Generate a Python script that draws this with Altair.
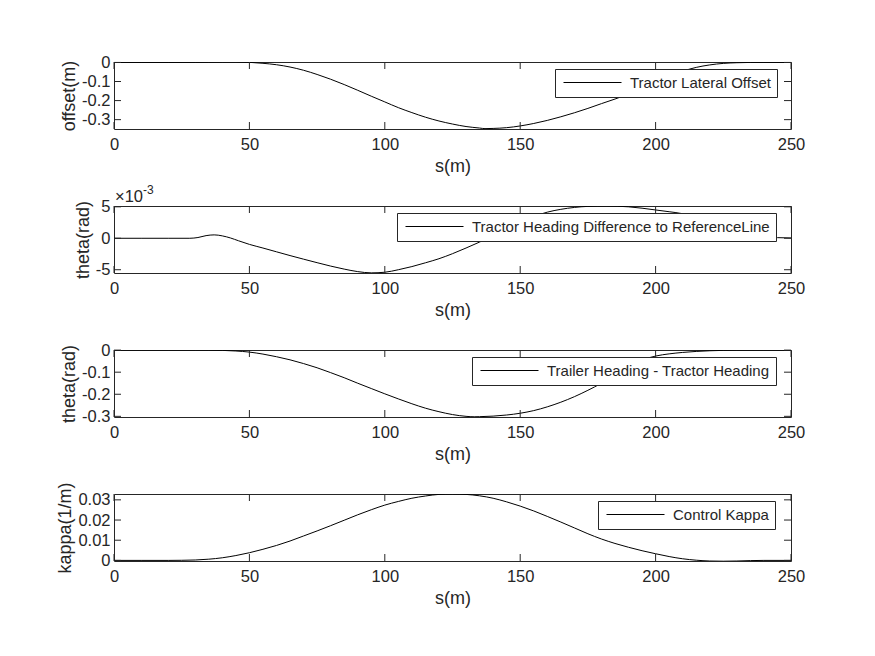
import altair as alt
import pandas as pd

# ---------------- data ----------------
S_OFFSET = [0, 10, 20, 30, 35, 40, 45, 50, 55, 60, 65, 70, 75, 80, 85, 90, 95, 100, 105, 110,
            115, 120, 125, 130, 135, 137, 140, 145, 150, 155, 160, 165, 170, 175, 180, 185, 190,
            195, 200, 205, 210, 215, 220, 225, 230, 235, 240, 250]
OFFSET = [0, 0, 0, 0.0004, 0.0011, 0.0019, 0.0021, 0.0005, -0.0045, -0.012,
          -0.024, -0.041, -0.063, -0.088, -0.116, -0.146, -0.177, -0.207, -0.237, -0.263,
          -0.287, -0.307, -0.323, -0.336, -0.344, -0.347, -0.346, -0.342, -0.333, -0.320,
          -0.304, -0.285, -0.264, -0.241, -0.216, -0.192, -0.166, -0.137, -0.105, -0.073,
          -0.046, -0.026, -0.013, -0.005, -0.0015, 0, 0, 0]

S_THETA = [0, 10, 20, 28, 31, 34, 37, 40, 43, 46, 50, 55, 60, 65, 70, 75, 80, 85, 90, 95,
           100, 105, 110, 115, 120, 125, 130, 135, 140, 145, 150, 155, 160, 165, 170, 175, 182,
           190, 195, 200, 205, 210, 215, 220, 225, 230, 235, 240, 245, 250]
THETA_E3 = [0, 0, 0, 0, 0.12, 0.42, 0.54, 0.38, 0.05, -0.4,
            -0.97, -1.55, -2.15, -2.75, -3.32, -3.88, -4.42, -4.9, -5.3, -5.5,
            -5.4, -5.0, -4.5, -3.9, -3.25, -2.45, -1.55, -0.6, 0.4, 1.45,
            2.5, 3.45, 4.15, 4.6, 4.9, 5.07, 5.13, 5.0, 4.78, 4.5,
            4.22, 3.9, 3.3, 2.6, 1.9, 1.2, 0.65, 0.3, 0.1, 0.05]

S_TRAILER = [0, 10, 20, 30, 35, 40, 45, 50, 55, 60, 65, 70, 75, 80, 85, 90, 95, 100, 105, 110,
             115, 120, 125, 130, 133, 135, 140, 145, 150, 155, 160, 165, 170, 175, 180, 185, 190,
             195, 200, 205, 210, 215, 220, 225, 230, 240, 250]
TRAILER = [0, 0, 0, 0, -0.0003, -0.0012, -0.004, -0.009, -0.018, -0.030,
           -0.044, -0.061, -0.080, -0.102, -0.125, -0.150, -0.174, -0.198, -0.221, -0.243,
           -0.263, -0.279, -0.292, -0.300, -0.302, -0.3015, -0.299, -0.294, -0.286, -0.274,
           -0.257, -0.236, -0.211, -0.182, -0.150, -0.113, -0.076, -0.045, -0.027, -0.017,
           -0.0105, -0.006, -0.003, -0.0012, -0.0003, 0, 0]

S_KAPPA = [0, 10, 20, 25, 30, 35, 40, 45, 50, 55, 60, 65, 70, 75, 80, 85, 90, 95, 100, 105,
           110, 115, 120, 125, 130, 135, 140, 145, 150, 155, 160, 165, 170, 175, 180, 185, 190,
           195, 200, 205, 210, 215, 220, 225, 230, 235, 240, 250]
KAPPA = [0, 0, 0, 0.00005, 0.0002, 0.0006, 0.0013, 0.0024, 0.0038, 0.0055,
         0.0074, 0.0096, 0.0121, 0.0146, 0.0172, 0.0199, 0.0226, 0.0251, 0.0274, 0.0292,
         0.0308, 0.0319, 0.0327, 0.0329, 0.0327, 0.0320, 0.0308, 0.0290, 0.0269, 0.0245,
         0.0218, 0.0190, 0.0161, 0.0132, 0.0106, 0.0084, 0.0065, 0.0048, 0.0033, 0.0019,
         0.0008, 0.0001, -0.0003, -0.0004, -0.0003, -0.0001, 0, 0]

X_TICKS = [0, 50, 100, 150, 200, 250]
Y_TICKS_OFFSET = [0, -0.1, -0.2, -0.3]
Y_TICKS_THETA = [-5, 0, 5]
Y_TICKS_TRAILER = [0, -0.1, -0.2, -0.3]
Y_TICKS_KAPPA = [0, 0.01, 0.02, 0.03]

LEGEND_NAMES = ["Tractor Lateral Offset",
                "Tractor Heading Difference to ReferenceLine",
                "Trailer Heading - Tractor Heading",
                "Control Kappa"]
Y_TITLES = ["offset(m)", "theta(rad)", "theta(rad)", "kappa(1/m)"]
X_TITLE = "s(m)"
EXPONENT = ["\u00d710", "-3"]

# ---------------- styling ----------------
W, H = 677, 67
FONT = "Liberation Sans"
AX = "#262626"
TL = 7  # inward tick length


def panel(s, v, name, ydom, yticks, ytitle, legend_x, extra=None):
    df = pd.DataFrame({"s": s, "v": v, "series": name})
    xscale = alt.Scale(domain=[0, 250], nice=False, zero=False)
    yscale = alt.Scale(domain=ydom, nice=False, zero=False)
    xaxis = alt.Axis(values=X_TICKS, title=X_TITLE, ticks=False, domain=False, grid=False,
                     labelFlush=False, labelPadding=7, titlePadding=5,
                     labelExpr="toString(datum.value)")
    yaxis = alt.Axis(values=yticks, title=ytitle, ticks=False, domain=False, grid=False,
                     labelFlush=False, labelPadding=4, titlePadding=3,
                     labelExpr="toString(datum.value)")
    X = alt.X("s:Q", scale=xscale, axis=xaxis)
    Y = alt.Y("v:Q", scale=yscale, axis=yaxis)

    line = alt.Chart(df).mark_line(strokeWidth=1, clip=True, interpolate="monotone").encode(
        x=X, y=Y,
        color=alt.Color("series:N", scale=alt.Scale(range=["black"]), title=None,
                        legend=alt.Legend(orient="none", legendX=legend_x, legendY=7)),
    )
    xt = pd.DataFrame({"s": X_TICKS})
    yt = pd.DataFrame({"v": yticks})
    rule = dict(color=AX, strokeWidth=1)
    bottom = alt.Chart(xt).mark_rule(**rule).encode(x=X, y=alt.value(H), y2=alt.value(H - TL))
    top = alt.Chart(xt).mark_rule(**rule).encode(x=X, y=alt.value(0), y2=alt.value(TL))
    left = alt.Chart(yt).mark_rule(**rule).encode(y=Y, x=alt.value(0), x2=alt.value(TL))
    right = alt.Chart(yt).mark_rule(**rule).encode(y=Y, x=alt.value(W - TL), x2=alt.value(W))
    layers = [line, bottom, top, left, right]
    if extra:
        layers += extra
    return alt.layer(*layers).properties(width=W, height=H)


exp_base = alt.Chart(pd.DataFrame({"t": [EXPONENT[0]]})).mark_text(
    align="left", baseline="alphabetic", font=FONT, fontSize=16.5, color=AX
).encode(x=alt.value(1), y=alt.value(-4), text="t:N")
exp_sup = alt.Chart(pd.DataFrame({"t": [EXPONENT[1]]})).mark_text(
    align="left", baseline="alphabetic", font=FONT, fontSize=12, color=AX
).encode(x=alt.value(29), y=alt.value(-12), text="t:N")

p1 = panel(S_OFFSET, OFFSET, LEGEND_NAMES[0], [-0.349, 0.0023], Y_TICKS_OFFSET, Y_TITLES[0], 441)
p2 = panel(S_THETA, THETA_E3, LEGEND_NAMES[1], [-5.52, 5.13], Y_TICKS_THETA, Y_TITLES[1], 283,
           extra=[exp_base, exp_sup])
p3 = panel(S_TRAILER, TRAILER, LEGEND_NAMES[2], [-0.303, 0.0005], Y_TICKS_TRAILER, Y_TITLES[2], 358)
p4 = panel(S_KAPPA, KAPPA, LEGEND_NAMES[3], [-0.0003, 0.0329], Y_TICKS_KAPPA, Y_TITLES[3], 484)

chart = alt.vconcat(p1, p2, p3, p4, spacing=77, bounds="flush").resolve_scale(
    x="independent", y="independent", color="independent"
).resolve_legend(color="independent").properties(
    padding={"left": 56, "top": 53, "right": 5, "bottom": 5},
    background="white",
).configure_view(
    stroke=AX, strokeWidth=1
).configure_axis(
    labelFont=FONT, labelFontSize=16.5, labelColor=AX,
    titleFont=FONT, titleFontSize=18, titleColor=AX, titleFontWeight="normal",
).configure_legend(
    labelFont=FONT, labelFontSize=15, labelColor=AX,
    strokeColor=AX, fillColor="white", padding=6,
    symbolType="M-1,0H10.6", symbolSize=100, symbolStrokeWidth=1,
    labelOffset=54, labelLimit=600, cornerRadius=0,
)

chart.save("out.html", embed_options={"renderer": "svg", "actions": False})
